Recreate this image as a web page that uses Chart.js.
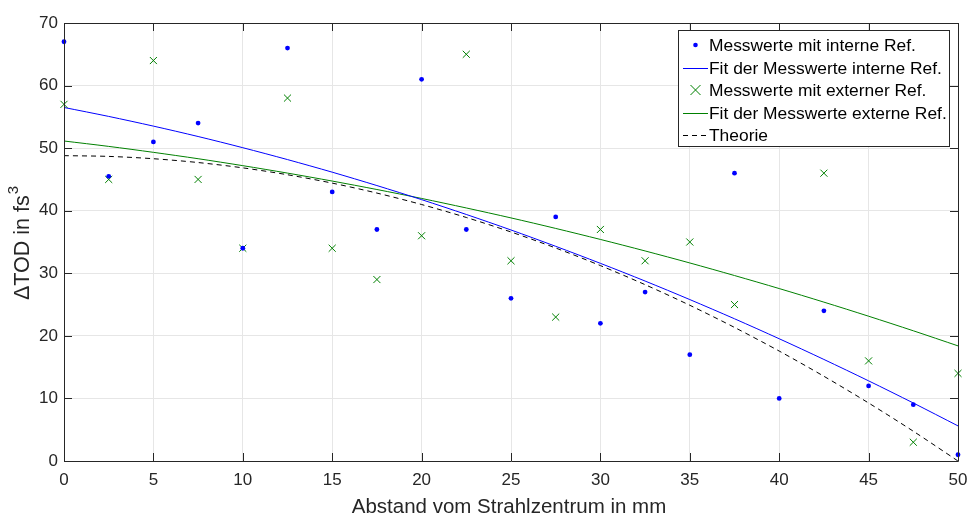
<!DOCTYPE html>
<html>
<head>
<meta charset="utf-8">
<script src="https://cdn.jsdelivr.net/npm/chart.js@4.4.1/dist/chart.umd.min.js"></script>
<style>
  html, body { margin: 0; padding: 0; background: #ffffff; }
  #wrap { width: 971px; height: 516px; }
</style>
</head>
<body>
<div id="wrap"><canvas id="c" width="971" height="516"></canvas></div>
<script>
// Abstand vom Strahlzentrum (mm)
const abstand = [0, 2.5, 5, 7.5, 10, 12.5, 15, 17.5, 20, 22.5, 25, 27.5, 30, 32.5, 35, 37.5, 40, 42.5, 45, 47.5, 50];

// Messwerte ΔTOD (fs³)
const messwerteIntern = [67, 45.5, 51, 54, 34, 66, 43, 37, 61, 37, 26, 39, 22, 27, 17, 46, 10, 24, 12, 9, 1];
const messwerteExtern = [57, 45, 64, 45, 34, 58, 34, 29, 36, 65, 32, 23, 37, 32, 35, 25, null, 46, 16, 3, 14];

// Fitkurven und Theorie, an denselben Abständen
const fitIntern = [56.50, 55.07, 53.52, 51.86, 50.07, 48.17, 46.16, 44.02, 41.77, 39.40, 36.92, 34.31, 31.59, 28.76, 25.80, 22.73, 19.54, 16.23, 12.81, 9.27, 5.61];
const fitExtern = [51.14, 50.28, 49.33, 48.31, 47.20, 46.01, 44.74, 43.39, 41.96, 40.44, 38.85, 37.17, 35.41, 33.57, 31.65, 29.64, 27.56, 25.39, 23.14, 20.81, 18.40];
const theorie   = [48.80, 48.68, 48.31, 47.70, 46.85, 45.75, 44.41, 42.82, 40.99, 38.92, 36.60, 34.04, 31.23, 28.18, 24.89, 21.35, 17.57, 13.54, 9.27, 4.76, 0.00];

const xTicks = [0, 5, 10, 15, 20, 25, 30, 35, 40, 45, 50];
const yTicks = [0, 10, 20, 30, 40, 50, 60, 70];

const labels = [
  'Messwerte mit interne Ref.',
  'Fit der Messwerte interne Ref.',
  'Messwerte mit externer Ref.',
  'Fit der Messwerte externe Ref.',
  'Theorie'
];
const xTitle = 'Abstand vom Strahlzentrum in mm';
const yTitle = 'ΔTOD in fs';
const yTitleExp = '3';

const BLUE = '#0000ff';
const GREEN = '#008000';
const AXIS = '#262626';
const FONT = '"Liberation Sans", Arial, Helvetica, sans-serif';

function pts(ys) {
  return abstand.map((x, i) => ({ x: x, y: ys[i] }));
}

// Achsenrahmen mit nach innen zeigenden Strichen, Achsentitel und Legende
const boxPlugin = {
  id: 'boxTicks',
  afterDatasetsDraw(chart) {
    const { ctx, chartArea: a, scales } = chart;
    ctx.save();
    ctx.strokeStyle = AXIS;
    ctx.lineWidth = 1;
    ctx.beginPath();
    ctx.rect(Math.round(a.left) + 0.5, Math.round(a.top) + 0.5,
             Math.round(a.right - a.left), Math.round(a.bottom - a.top));
    ctx.stroke();
    const len = 8;
    ctx.beginPath();
    xTicks.forEach(v => {
      const px = Math.round(scales.x.getPixelForValue(v)) + 0.5;
      ctx.moveTo(px, a.bottom); ctx.lineTo(px, a.bottom - len);
      ctx.moveTo(px, a.top); ctx.lineTo(px, a.top + len);
    });
    yTicks.forEach(v => {
      const py = Math.round(scales.y.getPixelForValue(v)) + 0.5;
      ctx.moveTo(a.left, py); ctx.lineTo(a.left + len, py);
      ctx.moveTo(a.right, py); ctx.lineTo(a.right - len, py);
    });
    ctx.stroke();
    ctx.restore();
  },
  afterDraw(chart) {
    const { ctx, chartArea: a } = chart;

    // x-Achsentitel
    ctx.save();
    ctx.fillStyle = AXIS;
    ctx.font = '20.5px ' + FONT;
    ctx.textAlign = 'center';
    ctx.textBaseline = 'alphabetic';
    ctx.fillText(xTitle, (a.left + a.right) / 2 - 2, 513);
    ctx.restore();

    // y-Achsentitel mit hochgestellter 3
    ctx.save();
    ctx.translate(29, 300);
    ctx.rotate(-Math.PI / 2);
    ctx.fillStyle = AXIS;
    ctx.textBaseline = 'alphabetic';
    ctx.textAlign = 'left';
    ctx.font = '21.5px ' + FONT;
    ctx.fillText(yTitle, 0, 0);
    const w = ctx.measureText(yTitle).width;
    ctx.font = '15px ' + FONT;
    ctx.fillText(yTitleExp, w + 1, -11);
    ctx.restore();

    // Legende oben rechts im Diagramm
    const left = 678, top = 30, right = 949, bottom = 146;
    ctx.save();
    ctx.fillStyle = '#ffffff';
    ctx.fillRect(left, top, right - left, bottom - top);
    ctx.strokeStyle = AXIS;
    ctx.lineWidth = 1;
    ctx.strokeRect(left + 0.5, top + 0.5, right - left, bottom - top);
    const rowH = 22.6;
    const base0 = 51;
    ctx.font = '17.4px ' + FONT;
    ctx.textBaseline = 'alphabetic';
    ctx.textAlign = 'left';
    chart.data.datasets.forEach((ds, i) => {
      const base = base0 + i * rowH;
      const cy = Math.round(base - 6);
      const sx0 = 683, sx1 = 708, sxm = (sx0 + sx1) / 2;
      if (ds.showLine === false) {
        if (ds.pointStyle === 'crossRot') {
          ctx.strokeStyle = ds.borderColor;
          ctx.lineWidth = 1;
          const r = 5;
          ctx.beginPath();
          ctx.moveTo(sxm - r, cy - r); ctx.lineTo(sxm + r, cy + r);
          ctx.moveTo(sxm + r, cy - r); ctx.lineTo(sxm - r, cy + r);
          ctx.stroke();
        } else {
          ctx.fillStyle = ds.backgroundColor;
          ctx.beginPath();
          ctx.arc(sxm, cy, 2.3, 0, Math.PI * 2);
          ctx.fill();
        }
      } else {
        ctx.strokeStyle = ds.borderColor;
        ctx.lineWidth = 1;
        ctx.setLineDash(ds.borderDash || []);
        ctx.beginPath();
        ctx.moveTo(sx0, cy + 0.5); ctx.lineTo(sx1, cy + 0.5);
        ctx.stroke();
        ctx.setLineDash([]);
      }
      ctx.fillStyle = '#000000';
      ctx.fillText(ds.label, 709, base);
    });
    ctx.restore();
  }
};

new Chart(document.getElementById('c'), {
  type: 'scatter',
  data: {
    datasets: [
      {
        label: labels[0], data: pts(messwerteIntern), showLine: false,
        pointStyle: 'circle', pointRadius: 2.4, pointHoverRadius: 2.4,
        backgroundColor: BLUE, borderColor: BLUE, borderWidth: 0, order: 1, clip: false
      },
      {
        label: labels[1], data: pts(fitIntern), showLine: true,
        borderColor: BLUE, backgroundColor: BLUE, borderWidth: 1,
        pointRadius: 0, tension: 0.3, order: 3
      },
      {
        label: labels[2], data: pts(messwerteExtern), showLine: false,
        pointStyle: 'crossRot', pointRadius: 5, pointHoverRadius: 5,
        borderColor: GREEN, backgroundColor: GREEN, borderWidth: 1, order: 2, clip: false
      },
      {
        label: labels[3], data: pts(fitExtern), showLine: true,
        borderColor: GREEN, backgroundColor: GREEN, borderWidth: 1,
        pointRadius: 0, tension: 0.3, order: 4
      },
      {
        label: labels[4], data: pts(theorie), showLine: true,
        borderColor: '#000000', backgroundColor: '#000000', borderWidth: 1,
        borderDash: [5, 4], pointRadius: 0, tension: 0.3, order: 5
      }
    ]
  },
  options: {
    responsive: false,
    animation: false,
    devicePixelRatio: 1,
    layout: { padding: { left: 0, right: 13, top: 23, bottom: 0 } },
    plugins: {
      legend: { display: false },
      tooltip: { enabled: false }
    },
    scales: {
      x: {
        type: 'linear', min: 0, max: 50,
        afterBuildTicks: s => { s.ticks = xTicks.map(v => ({ value: v })); },
        afterFit: s => { s.height = 55; s.paddingLeft = 0; s.paddingRight = 0; },
        grid: { color: '#e6e6e6', lineWidth: 1, drawTicks: false },
        border: { display: false },
        ticks: { color: AXIS, font: { family: FONT, size: 17 }, padding: 9, maxRotation: 0 }
      },
      y: {
        type: 'linear', min: 0, max: 70,
        afterBuildTicks: s => { s.ticks = yTicks.map(v => ({ value: v })); },
        afterFit: s => { s.width = 64; s.paddingTop = 0; s.paddingBottom = 0; },
        grid: { color: '#e6e6e6', lineWidth: 1, drawTicks: false },
        border: { display: false },
        ticks: { color: AXIS, font: { family: FONT, size: 17 }, padding: 6 }
      }
    }
  },
  plugins: [boxPlugin]
});
</script>
</body>
</html>
